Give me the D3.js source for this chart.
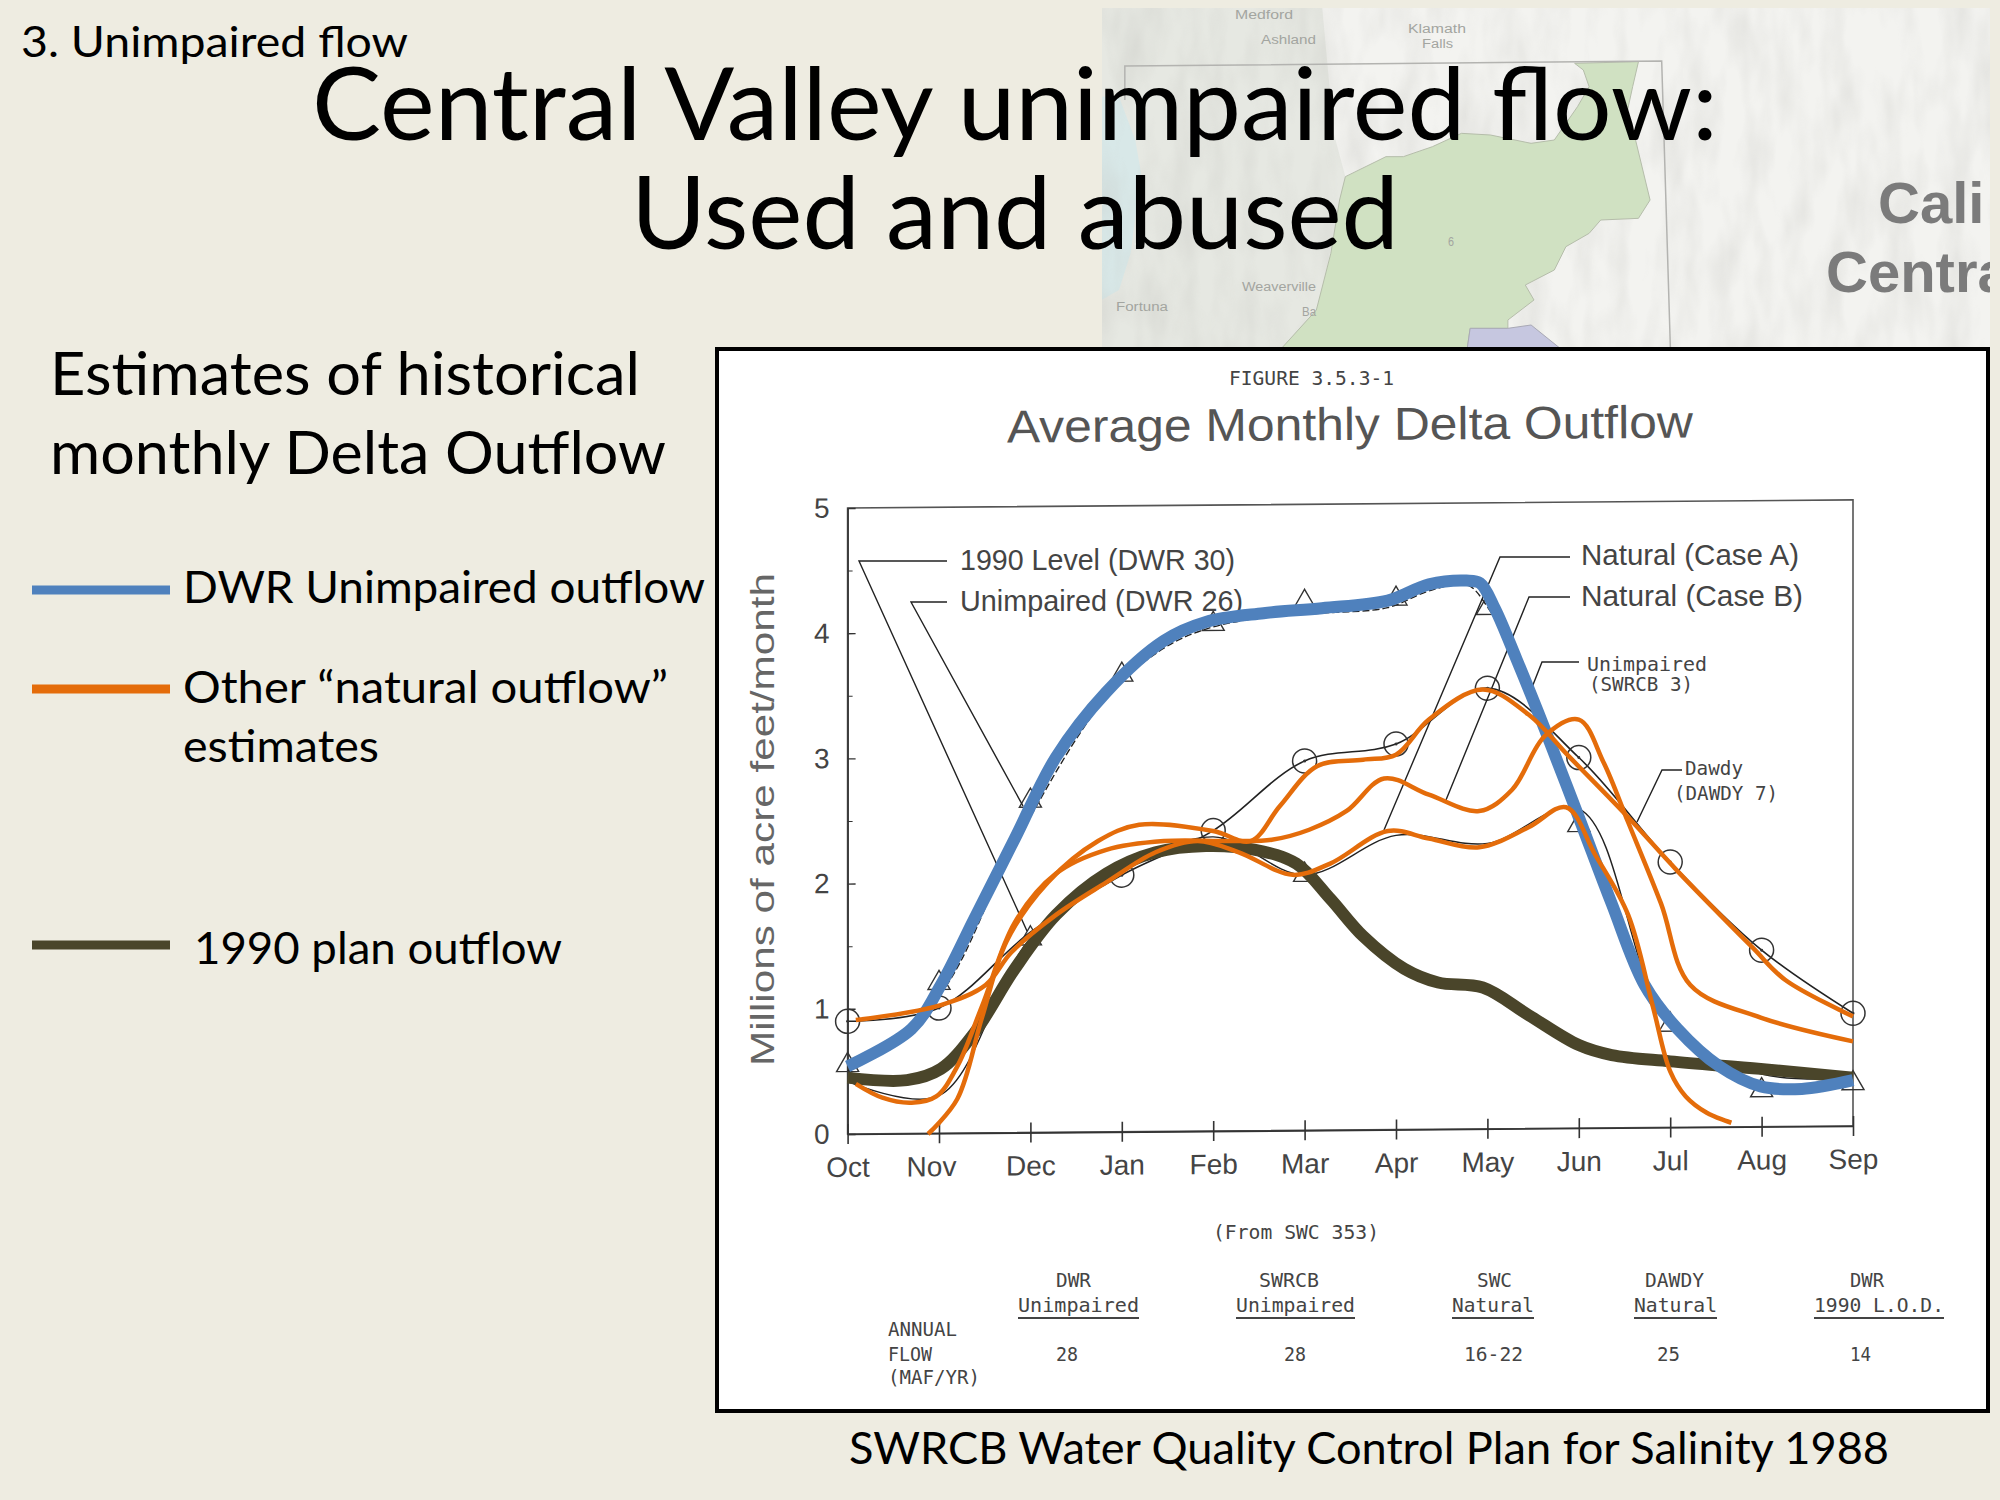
<!DOCTYPE html>
<html>
<head>
<meta charset="utf-8">
<script src="https://cdnjs.cloudflare.com/ajax/libs/d3/7.8.5/d3.min.js"></script>
<style>
html, body { margin: 0; padding: 0; background: #eeece1; }
svg { display: block; }
</style>
</head>
<body>
<svg width="2000" height="1500"></svg>
<script>
var months = ["Oct", "Nov", "Dec", "Jan", "Feb", "Mar", "Apr", "May", "Jun", "Jul", "Aug", "Sep"];
var yTicks = [0, 1, 2, 3, 4, 5];

// overlay curves, position is in months after Oct, value in MAF/month
var dwrPos = [0, 0.7, 1.02, 1.38, 1.83, 2.28, 2.83, 3.46, 3.92, 4.55, 5.19, 5.91, 6.36, 6.77, 6.92, 7.08, 7.32, 7.63, 8, 8.36, 8.72, 9.08, 9.54, 9.99, 10.44, 11];
var dwrVal = [0.54, 0.84, 1.19, 1.71, 2.36, 3.01, 3.53, 3.94, 4.09, 4.16, 4.2, 4.26, 4.39, 4.42, 4.4, 4.2, 3.79, 3.23, 2.53, 1.84, 1.19, 0.84, 0.54, 0.38, 0.36, 0.43];

var planPos = [0, 0.65, 1.02, 1.38, 1.83, 2.28, 2.83, 3.37, 3.92, 4.46, 4.91, 5.28, 5.64, 6.09, 6.46, 6.95, 7.45, 8, 8.36, 9, 9.99, 11];
var planVal = [0.45, 0.43, 0.52, 0.8, 1.32, 1.75, 2.08, 2.25, 2.3, 2.27, 2.16, 1.88, 1.58, 1.32, 1.21, 1.17, 0.95, 0.71, 0.63, 0.58, 0.52, 0.45];

var caseBPos = [0.09, 1.02, 1.51, 1.79, 2.28, 2.83, 3.37, 3.83, 4.28, 4.87, 5.28, 5.91, 6.36, 6.91, 7.45, 7.86, 8.18, 8.54, 8.81, 9, 9.17, 9.4, 9.67];
var caseBVal = [0.91, 1.03, 1.19, 1.45, 1.75, 2.01, 2.25, 2.34, 2.25, 2.07, 2.16, 2.42, 2.36, 2.29, 2.45, 2.61, 2.23, 1.75, 1.02, 0.5, 0.3, 0.17, 0.09];

var caseAPos = [0.09, 0.38, 0.7, 0.97, 1.2, 1.47, 1.83, 2.28, 2.83, 3.46, 4.19, 4.64, 5.05, 5.46, 5.87, 6.36, 6.91, 7.27, 7.63, 8, 8.27, 8.54, 8.9, 9.22, 9.99, 11];
var caseAVal = [0.4, 0.29, 0.25, 0.3, 0.54, 1.02, 1.69, 2.08, 2.27, 2.34, 2.34, 2.35, 2.43, 2.58, 2.84, 2.71, 2.58, 2.75, 3.18, 3.31, 2.97, 2.49, 1.84, 1.19, 0.93, 0.74];

var swrcbPos = [0.88, 1.2, 1.47, 1.74, 2.19, 2.74, 3.19, 4, 4.41, 4.73, 5.14, 5.64, 6, 6.36, 6.95, 7.45, 7.9, 8.54, 9.08, 9.9, 10.26, 11];
var swrcbVal = [0, 0.28, 0.93, 1.54, 2.01, 2.34, 2.47, 2.42, 2.34, 2.62, 2.94, 2.99, 3.03, 3.31, 3.55, 3.35, 3.01, 2.53, 2.1, 1.49, 1.23, 0.94];

// dashed curve of the scan, it runs just under the blue one
var dashedPos = [0, 1, 1.83, 2.83, 3.46, 3.92, 4.55, 5.19, 5.91, 6.36, 6.77, 7, 7.32, 7.63, 8, 8.72, 9.08, 9.54, 9.99, 11];
var dashedVal = [0.5, 1.1, 2.3, 3.47, 3.86, 4.01, 4.1, 4.13, 4.17, 4.3, 4.35, 4.17, 3.72, 3.17, 2.46, 1.12, 0.78, 0.47, 0.31, 0.36];

// markers of the scanned figure, one per month
var circleVal = [0.9, 1.0, 1.6, 2.05, 2.4, 2.95, 3.08, 3.52, 2.96, 2.12, 1.41, 0.9];
var triangleVal = [0.55, 1.2, 2.65, 3.65, 4.05, 4.22, 4.24, 4.16, 2.42, 0.82, 0.29, 0.34];
var lowTriangleVal = [0.42, 0.3, 1.55, 2.08, 2.35, 2.04, 2.35, 2.28, 2.55, 0.8, 0.42, 0.38];
var noCircleAt = ["Dec"];
var lowTriangleAt = ["Dec", "Mar"];

var flowNames = ["DWR", "SWRCB", "SWC", "DAWDY", "DWR"];
var flowKinds = ["Unimpaired", "Unimpaired", "Natural", "Natural", "1990 L.O.D."];
var flowValues = ["28", "28", "16-22", "25", "14"];

var bgColor = "#eeece1", blue = "#4f81bd", orange = "#e46c0a", olive = "#4a452a", scanInk = "#333";
var sans = "Lato, 'Open Sans', sans-serif", scanSans = "'Liberation Sans', sans-serif", mono = "'DejaVu Sans Mono', monospace";

var svg = d3.select("svg");
svg.append("rect").attr("width", 2000).attr("height", 1500).attr("fill", bgColor);

// fits the text between x0 and x1, the slide fonts are not installed
function fitText(g, str, x0, x1, base, size, font, color) {
    return g.append("text")
        .attr("x", x0).attr("y", base)
        .attr("textLength", x1 - x0)
        .attr("lengthAdjust", "spacingAndGlyphs")
        .attr("font-family", font)
        .attr("font-size", size)
        .attr("fill", color || "#000")
        .text(str);
}

// ---- map behind the title ----
function mapPt(p) { return [1090 + p[0] / 1.723, p[1] / 3]; }
var mapLine = d3.line();
var mapG = svg.append("g");
var defs = svg.append("defs");
defs.append("clipPath").attr("id", "mapClip").append("rect")
    .attr("x", 1102).attr("y", 8).attr("width", 888).attr("height", 342);
// mottled relief of the base map
var relief = defs.append("filter").attr("id", "relief").attr("x", 0).attr("y", 0).attr("width", 1).attr("height", 1);
relief.append("feTurbulence").attr("type", "fractalNoise").attr("baseFrequency", "0.035 0.012").attr("numOctaves", 3).attr("seed", 4);
relief.append("feColorMatrix").attr("type", "matrix")
    .attr("values", "0 0 0 0 0.55  0 0 0 0 0.55  0 0 0 0 0.52  1.6 0 0 0 -0.62");

mapG.attr("clip-path", "url(#mapClip)");
mapG.append("rect").attr("x", 1102).attr("y", 8).attr("width", 888).attr("height", 342).attr("fill", "#f3f3f0");

var hillShapes = [
    {pts: [[20, 20], [400, 20], [420, 400], [440, 530], [380, 1045], [20, 1045]], fill: "#e6e8e2"},
    {pts: [[20, 290], [50, 290], [78, 420], [88, 520], [70, 760], [50, 870], [20, 900]], fill: "#d8e8e8"}
];
hillShapes.forEach(function(s) {
    mapG.append("path").attr("d", mapLine(s.pts.map(mapPt)) + "Z").attr("fill", s.fill);
});
mapG.append("rect").attr("x", 1102).attr("y", 8).attr("width", 888).attr("height", 342)
    .attr("filter", "url(#relief)").attr("opacity", 0.4);

var basinShapes = [
    {pts: [[835, 190], [945, 185], [935, 260], [925, 340], [940, 420], [965, 600], [945, 655], [880, 660], [860, 700], [820, 740], [800, 810], [750, 855], [765, 900], [720, 960], [720, 985], [655, 985], [650, 1045], [330, 1045], [390, 930], [415, 760], [430, 600], [440, 530], [510, 470], [540, 470], [590, 440], [640, 400], [690, 405], [760, 430], [800, 420], [840, 320], [860, 260], [850, 210]], fill: "#d0e1c2", stroke: "#b5bdaa"},
    {pts: [[655, 985], [720, 985], [760, 975], [810, 1045], [650, 1045]], fill: "#c6c7e0", stroke: "#a9a9b5"}
];
basinShapes.forEach(function(s) {
    mapG.append("path").attr("d", mapLine(s.pts.map(mapPt)) + "Z").attr("fill", s.fill).attr("stroke", s.stroke);
});
mapG.append("path")
    .attr("d", mapLine([[60, 300], [60, 198], [985, 183], [1000, 1045]].map(mapPt)))
    .attr("fill", "none").attr("stroke", "#b3b3b0").attr("stroke-width", 1.5);

var mapLabels = ["Medford", "Ashland", "Klamath", "Falls", "Weaverville", "Fortuna", "6", "Ba"];
var mapLabelPos = [[1235, 1293, 19], [1261, 1316, 44], [1408, 1466, 33], [1422, 1453, 48], [1242, 1316, 291], [1116, 1168, 311], [1448, 1454, 246], [1302, 1316, 316]];
mapLabels.forEach(function(t, i) {
    var p = mapLabelPos[i];
    fitText(mapG, t, p[0], p[1], p[2], 12, scanSans, "#a3a5a0");
});
mapG.append("text").attr("x", 1878).attr("y", 223).attr("font-family", scanSans).attr("font-weight", "bold")
    .attr("font-size", 58).attr("fill", "#7b7b7b").text("Cali");
mapG.append("text").attr("x", 1826).attr("y", 292).attr("font-family", scanSans).attr("font-weight", "bold")
    .attr("font-size", 58).attr("fill", "#7b7b7b").text("Centra");

// ---- slide text ----
fitText(svg, "3. Unimpaired flow", 21, 408, 57, 43, sans);
fitText(svg, "Central Valley unimpaired flow:", 312, 1718, 140, 100, sans);
fitText(svg, "Used and abused", 631, 1399, 249, 100, sans);
fitText(svg, "Estimates of historical", 50, 640, 395, 60, sans);
fitText(svg, "monthly Delta Outflow", 50, 666, 474, 60, sans);
fitText(svg, "DWR Unimpaired outflow", 183, 705, 603, 44, sans);
fitText(svg, "Other \u201Cnatural outflow\u201D", 183, 668, 703, 44, sans);
fitText(svg, "estimates", 183, 379, 762, 44, sans);
fitText(svg, "1990 plan outflow", 194, 562, 964, 44, sans);
fitText(svg, "SWRCB Water Quality Control Plan for Salinity 1988", 849, 1889, 1464, 45, sans);

var legendY = [590, 689, 945];
var legendColor = [blue, orange, olive];
legendY.forEach(function(y, i) {
    svg.append("rect").attr("x", 32).attr("y", y - 4.5).attr("width", 138).attr("height", 9).attr("fill", legendColor[i]);
});

// ---- scanned figure ----
svg.append("rect").attr("x", 717).attr("y", 349).attr("width", 1271).attr("height", 1062)
    .attr("fill", "#fff").attr("stroke", "#000").attr("stroke-width", 4);

var left = 847.6, right = 1853, bottom = 1134, top_ = 508;
var x = d3.scaleLinear().domain([0, 11]).range([left, right]);
var y = d3.scaleLinear().domain([0, 5]).range([bottom, top_]);

fitText(svg, "FIGURE 3.5.3-1", 1229, 1394, 385, 20, mono, "#444");
fitText(svg, "Average Monthly Delta Outflow", 1007, 1693, 440, 46, scanSans, "#555")
    .attr("transform", "rotate(-0.4 1350 440)");

// the scan leans a little, verticals stay vertical
var plot = svg.append("g")
    .attr("transform", "translate(" + left + "," + bottom + ") skewY(-0.46) translate(" + (-left) + "," + (-bottom) + ")");

plot.append("rect").attr("x", left).attr("y", top_).attr("width", right - left).attr("height", bottom - top_)
    .attr("fill", "none").attr("stroke", "#555").attr("stroke-width", 1.6);

var xAxis = d3.axisBottom(x).tickValues(d3.range(12)).tickFormat(function(d) { return months[d]; }).tickSizeInner(10).tickSizeOuter(0).tickPadding(13);
var xG = plot.append("g").attr("transform", "translate(0," + bottom + ")").call(xAxis);
xG.selectAll(".tick line").attr("y1", -10).attr("stroke", scanInk).attr("stroke-width", 1.6);
xG.select(".domain").attr("stroke", scanInk).attr("stroke-width", 1.6);
xG.selectAll("text").attr("font-family", scanSans).attr("font-size", 28).attr("fill", "#444")
    .attr("dx", function(d) { return months[d] === "Nov" ? -8 : 0; });

var yAxis = d3.axisLeft(y).tickValues(yTicks).tickFormat(d3.format("d")).tickSizeInner(-8).tickSizeOuter(0).tickPadding(18);
var yG = plot.append("g").attr("transform", "translate(" + left + ",0)").call(yAxis);
yG.selectAll(".tick line").attr("stroke", scanInk).attr("stroke-width", 1.4);
yG.select(".domain").attr("stroke", scanInk).attr("stroke-width", 1.6);
yG.selectAll("text").attr("font-family", scanSans).attr("font-size", 28).attr("fill", "#444");

var yMinor = d3.axisLeft(y).tickValues(yTicks.slice(0, 5).map(function(d) { return d + 0.5; })).tickSizeInner(-5).tickSizeOuter(0).tickFormat("");
var yMinorG = plot.append("g").attr("transform", "translate(" + left + ",0)").call(yMinor);
yMinorG.select(".domain").remove();
yMinorG.selectAll(".tick line").attr("stroke", scanInk);

var curve = d3.line().x(function(d) { return x(d[0]); }).y(function(d) { return y(d[1]); }).curve(d3.curveCatmullRom.alpha(0.5));
var thinLine = d3.line().x(function(d, i) { return x(i); }).y(function(d) { return y(d); }).curve(d3.curveCatmullRom.alpha(0.5));
plot.append("path").datum(circleVal).attr("d", thinLine).attr("fill", "none").attr("stroke", "#222").attr("stroke-width", 1.6);
plot.append("path").datum(d3.zip(dashedPos, dashedVal)).attr("d", curve).attr("fill", "none").attr("stroke", "#222").attr("stroke-width", 1.4).attr("stroke-dasharray", "7 3");
plot.append("path").datum(lowTriangleVal).attr("d", thinLine).attr("fill", "none").attr("stroke", "#222").attr("stroke-width", 1.4);

var circlePts = circleVal.map(function(v, i) { return [i, v]; }).filter(function(d) { return noCircleAt.indexOf(months[d[0]]) < 0; });
plot.selectAll("circle.ring").data(circlePts).enter().append("circle")
    .attr("class", "ring")
    .attr("cx", function(d) { return x(d[0]); }).attr("cy", function(d) { return y(d[1]); })
    .attr("r", 12).attr("fill", "none").attr("stroke", scanInk).attr("stroke-width", 1.5);
plot.selectAll("circle.dot").data(circlePts).enter().append("circle")
    .attr("class", "dot")
    .attr("cx", function(d) { return x(d[0]); }).attr("cy", function(d) { return y(d[1]); })
    .attr("r", 1.5).attr("fill", scanInk);

var trianglePts = triangleVal.map(function(v, i) { return [i, v]; });
lowTriangleVal.forEach(function(v, i) {
    if (lowTriangleAt.indexOf(months[i]) >= 0) trianglePts.push([i, v]);
});
var triangle = d3.symbol().type(d3.symbolTriangle).size(210);
plot.append("g").selectAll("path").data(trianglePts).enter().append("path")
    .attr("d", triangle)
    .attr("transform", function(d) { return "translate(" + x(d[0]) + "," + y(d[1]) + ")"; })
    .attr("fill", "none").attr("stroke", scanInk).attr("stroke-width", 1.4);

// callouts of the scan
var leaders = [
    [[947, 561], [859, 561], [1027, 931]],
    [[947, 602], [911, 602], [1023, 806]],
    [[1570, 557], [1500, 557], [1384, 830]],
    [[1570, 597], [1529, 597], [1446, 800]],
    [[1579, 662], [1542, 662], [1529, 695]],
    [[1682, 770], [1662, 770], [1637, 822]]
];
leaders.forEach(function(l) {
    svg.append("path").attr("d", d3.line()(l)).attr("fill", "none").attr("stroke", "#222").attr("stroke-width", 1.4);
});

fitText(svg, "1990 Level (DWR 30)", 960, 1235, 570, 29, scanSans, "#444");
fitText(svg, "Unimpaired (DWR 26)", 960, 1243, 611, 29, scanSans, "#444");
fitText(svg, "Natural (Case A)", 1581, 1799, 565, 29, scanSans, "#444");
fitText(svg, "Natural (Case B)", 1581, 1803, 606, 29, scanSans, "#444");
fitText(svg, "Unimpaired", 1587, 1707, 671, 20, mono, "#444");
fitText(svg, "(SWRCB 3)", 1589, 1693, 691, 20, mono, "#444");
fitText(svg, "Dawdy", 1685, 1743, 775, 20, mono, "#444");
fitText(svg, "(DAWDY 7)", 1674, 1778, 800, 20, mono, "#444");

fitText(svg, "Millions of acre feet/month", 0, 493, 0, 33, scanSans, "#666")
    .attr("transform", "translate(774,1066) rotate(-90)");

// table under the plot
fitText(svg, "(From SWC 353)", 1213, 1379, 1239, 20, mono, "#444");
fitText(svg, "ANNUAL", 888, 957, 1336, 20, mono, "#444");
fitText(svg, "FLOW", 888, 932, 1361, 20, mono, "#444");
fitText(svg, "(MAF/YR)", 888, 980, 1384, 20, mono, "#444");

var namePos = [[1056, 1091], [1259, 1319], [1477, 1512], [1645, 1704], [1850, 1884]];
var kindPos = [[1018, 1139], [1236, 1355], [1452, 1534], [1634, 1717], [1814, 1944]];
var valuePos = [[1056, 1078], [1284, 1306], [1464, 1523], [1657, 1680], [1850, 1871]];
flowNames.forEach(function(name, i) {
    fitText(svg, name, namePos[i][0], namePos[i][1], 1287, 20, mono, "#444");
    fitText(svg, flowKinds[i], kindPos[i][0], kindPos[i][1], 1312, 20, mono, "#444");
    svg.append("line").attr("x1", kindPos[i][0]).attr("x2", kindPos[i][1]).attr("y1", 1318).attr("y2", 1318)
        .attr("stroke", "#444").attr("stroke-width", 2);
    fitText(svg, flowValues[i], valuePos[i][0], valuePos[i][1], 1361, 20, mono, "#444");
});

// ---- coloured curves drawn on top of the scan ----
var series = [
    {pos: planPos, val: planVal, color: olive, width: 12},
    {pos: dwrPos, val: dwrVal, color: blue, width: 12},
    {pos: caseBPos, val: caseBVal, color: orange, width: 4.5},
    {pos: caseAPos, val: caseAVal, color: orange, width: 4.5},
    {pos: swrcbPos, val: swrcbVal, color: orange, width: 4.5}
];
series.forEach(function(s) {
    svg.append("path")
        .datum(d3.zip(s.pos, s.val))
        .attr("d", curve)
        .attr("fill", "none")
        .attr("stroke", s.color)
        .attr("stroke-width", s.width)
        .attr("stroke-linejoin", "round");
});
</script>
</body>
</html>
